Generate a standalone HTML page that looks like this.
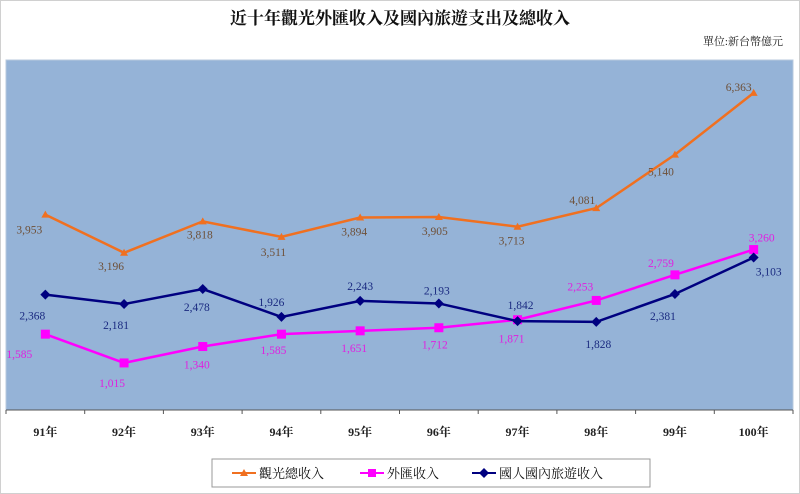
<!DOCTYPE html>
<html><head><meta charset="utf-8"><style>
body{margin:0;background:#fff;}
svg{display:block;font-family:"Liberation Serif","Noto Serif CJK SC",serif;}
</style></head><body>
<svg width="800" height="494">
<rect x="0.5" y="0.5" width="799" height="493" fill="#fff" stroke="#d0d0d0"/>
<text x="400" y="24" text-anchor="middle" font-size="17" font-weight="bold" fill="#111">近十年觀光外匯收入及國內旅遊支出及總收入</text>
<text x="783" y="45" text-anchor="end" font-size="11" fill="#222">單位:新台幣億元</text>
<g id="plot"></g>
<rect x="212" y="459" width="438" height="28" fill="#fff" stroke="#999"/>
<g>
<line x1="232" y1="473" x2="256" y2="473" stroke="#f07020" stroke-width="2"/><path d="M244 469 L248 476 L240 476Z" fill="#f07020"/>
<text x="259" y="478" font-size="13" fill="#111">觀光總收入</text></g>
<g>
<line x1="360" y1="473" x2="384" y2="473" stroke="#ff00ff" stroke-width="2"/><rect x="368" y="469" width="8" height="8" fill="#ff00ff"/>
<text x="387" y="478" font-size="13" fill="#111">外匯收入</text></g>
<g>
<line x1="472" y1="473" x2="496" y2="473" stroke="#000080" stroke-width="2"/><path d="M484 468 L489 473 L484 478 L479 473Z" fill="#000080"/>
<text x="499" y="478" font-size="13" fill="#111">國人國內旅遊收入</text></g>
</svg>
<script>
const categories=["91年","92年","93年","94年","95年","96年","97年","98年","99年","100年"];
const totalRevenue=[3953,3196,3818,3511,3894,3905,3713,4081,5140,6363];
const foreignRevenue=[1585,1015,1340,1585,1651,1712,1871,2253,2759,3260];
const domesticRevenue=[2368,2181,2478,1926,2243,2193,1842,1828,2381,3103];
const totalLabelOff=[[-16,15],[-13,13],[-3,13],[-8,15],[-6,14],[-4,14],[-6,14],[-14,-8],[-14,17],[-15,-6]];
const foreignLabelOff=[[-26,20],[-12,20],[-6,18],[-8,16],[-6,17],[-4,17],[-6,19],[-16,-14],[-14,-12],[8,-12]];
const domesticLabelOff=[[-13,21],[-8,21],[-6,18],[-10,-15],[0,-15],[-2,-13],[3,-16],[2,22],[-12,22],[15,14]];
const NS="http://www.w3.org/2000/svg";
const L=6,R=793,T=60,B=410;
const step=(R-L)/categories.length;
const x=i=>L+step*(i+0.5);
const y=v=>414.2-v*0.0505;
const g=document.getElementById('plot');
function mk(t,a){const e=document.createElementNS(NS,t);for(const k in a)e.setAttribute(k,a[k]);g.appendChild(e);return e;}
let bg=mk('rect',{x:L,y:T,width:R-L,height:B-T,fill:'#95b3d7',stroke:'#b8c8dc'});


let ax=mk('line',{x1:L,y1:B,x2:R,y2:B,stroke:'#555','stroke-width':1});


for(let i=0;i<=categories.length;i++){let t=mk('line',{x1:L+step*i,y1:B,x2:L+step*i,y2:B+4,stroke:'#555'});

}
categories.forEach((c,i)=>{let t=mk('text',{x:x(i),y:436,'text-anchor':'middle','font-size':12,'font-weight':'bold',fill:'#222'});t.textContent=c;

});
function series(vals,color,marker,name,offs,lc){
  let p=mk('polyline',{points:vals.map((v,i)=>x(i)+','+y(v)).join(' '),fill:'none',stroke:color,'stroke-width':2.5});
  
  
  vals.forEach((v,i)=>{const cx=x(i),cy=y(v);let m;
    if(marker==='tri')m=mk('path',{d:`M${cx} ${cy-4} L${cx+4} ${cy+3} L${cx-4} ${cy+3}Z`,fill:color});
    else if(marker==='sq')m=mk('rect',{x:cx-4.5,y:cy-4.5,width:9,height:9,fill:color});
    else m=mk('path',{d:`M${cx} ${cy-5} L${cx+5} ${cy} L${cx} ${cy+5} L${cx-5} ${cy}Z`,fill:color});
    
    
    let t=mk('text',{x:cx+offs[i][0],y:cy+offs[i][1]+4,'text-anchor':'middle','font-size':11.5,fill:lc});
    t.textContent=v.toLocaleString('en-US');
    
    
  });
}
series(totalRevenue,'#f07020','tri','total-revenue',totalLabelOff,'#6e5038');
series(foreignRevenue,'#ff00ff','sq','foreign-revenue',foreignLabelOff,'#e020e0');
series(domesticRevenue,'#000080','dia','domestic-revenue',domesticLabelOff,'#1a2a80');
</script>
</body></html>
